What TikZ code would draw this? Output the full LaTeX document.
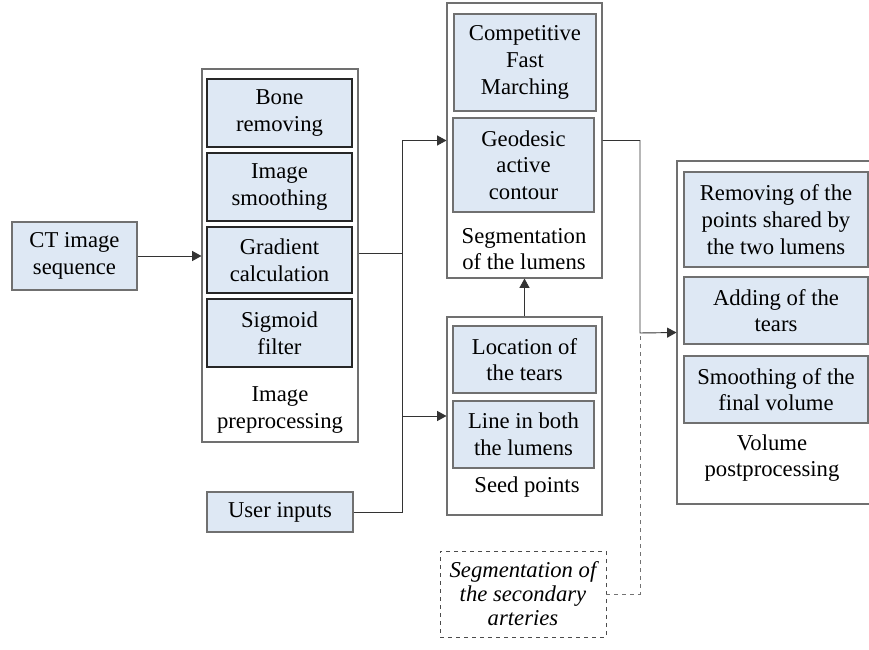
\documentclass[tikz,border=0pt]{standalone}
\usepackage{fontspec}
\setmainfont{Liberation Serif}
\usetikzlibrary{arrows.meta,fit}

\definecolor{boxblue}{HTML}{DEE8F4}
\definecolor{edgegray}{HTML}{707070}

\tikzset{
    stage/.style={draw=edgegray,fill=white,line width=0.8pt,inner sep=0pt},
    sub/.style={draw=edgegray,fill=boxblue,line width=0.8pt,inner sep=0pt,align=center},
    prepsub/.style={sub,draw=black!85,line width=1.3pt,minimum width=108.75pt},
    caption/.style={align=center,inner sep=0pt},
    link/.style={draw=black!80,line width=0.7pt},
    arr/.style={link,-{Triangle[length=7pt,width=7.5pt]}}
}

\begin{document}
\begin{tikzpicture}[x=0.75pt,y=-0.75pt,font=\fontsize{17}{20}\selectfont]
\useasboundingbox (0,0) rectangle (869,650);
\clip (0,0) rectangle (869,650);

% input
\node[sub,minimum width=93.75pt,minimum height=51pt] (ct) at (74.5,256) {CT image\\sequence};
\node[sub,minimum width=109.5pt,minimum height=30pt] (user) at (280,512) {User inputs};

% image preprocessing
\node[stage,fit={(202,69) (358,442)}] (prep) {};
\node[prepsub,minimum height=51pt] (bone) at (279.5,113) {Bone\\removing};
\node[prepsub,minimum height=51pt] (smooth) at (279.5,187) {Image\\smoothing};
\node[prepsub,minimum height=49.5pt] (grad) at (279.5,260) {Gradient\\calculation};
\node[prepsub,minimum height=51pt] (sigm) at (279.5,333) {Sigmoid\\filter};
\node[caption] (preplab) at (280,410) {Image\\preprocessing};

% segmentation
\node[stage,fit={(447,3) (602,278)}] (seg) {};
\node[sub,minimum width=106.5pt,minimum height=72.75pt] (cfm) at (525,62.5) {Competitive\\Fast\\Marching};
\node[sub,minimum width=105.75pt,minimum height=70.5pt] (geo) at (523.5,165) {Geodesic\\active\\contour};
\node[caption] (seglab) at (524,249) {Segmentation\\of the lumens};

% seed points
\node[stage,fit={(447,317) (602,515)}] (seed) {};
\node[sub,minimum width=107.25pt,minimum height=50.25pt] (loc) at (524.5,359.5) {Location of\\the tears};
\node[sub,minimum width=105.75pt,minimum height=50.25pt] (line) at (523.5,434.5) {Line in both\\the lumens};
\node[caption] (seedlab) at (527,487) {Seed points};

% secondary arteries
\node[draw=black!70,dashed,line width=0.6pt,inner sep=0pt,align=center,
      minimum width=124.5pt,minimum height=64.5pt,
      font=\fontsize{17}{18}\selectfont\itshape] (sec) at (523,594)
      {Segmentation of\\the secondary\\arteries};

% volume postprocessing
\node[stage,fit={(677,161) (880,504)}] (vol) {};
\node[sub,minimum width=138pt,minimum height=71.25pt] (rem) at (776,219.5) {Removing of the\\points shared by\\the two lumens};
\node[sub,minimum width=138pt,minimum height=50.25pt] (add) at (776,310.5) {Adding of the\\tears};
\node[sub,minimum width=138pt,minimum height=50.25pt] (fin) at (776,389.5) {Smoothing of the\\final volume};
\node[caption] (vollab) at (772,458) {Volume\\postprocessing};

% connectors
\coordinate (jn) at (402,253);
\coordinate (jv) at (640,333);
\draw[arr] (ct) -- (ct -| prep.west);
\draw[link] (prep.east |- jn) -- (jn);
\draw[arr] (jn) |- (seg.west);
\draw[arr] (jn) |- (seed.west);
\draw[link] (user) -| (jn);
\draw[arr] (seed) -- (seg);
\draw[arr] (seg.east) -| (jv) -- (vol.west);
\draw[link,draw=black!55,dashed] (sec) -| (jv);
\end{tikzpicture}
\end{document}
